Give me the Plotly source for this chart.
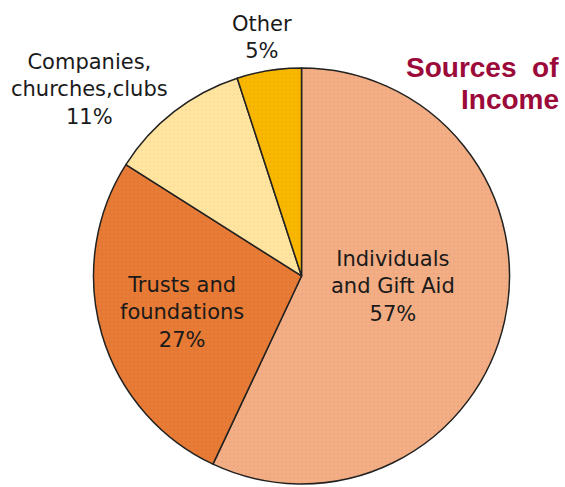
import plotly.graph_objects as go

labels = ["Individuals<br>and Gift Aid", "Trusts and<br>foundations", "Companies,<br>churches,clubs", "Other"]
values = [57, 27, 11, 5]
colors = ["#F3AE85", "#E87B35", "#FFE5A0", "#F9B700"]
dot_colors = ["#D88F63", "#C8652B", "#E3C57A", "#D49A00"]

# label placement (paper coords) per slice
label_pos = [(0.696, 0.411), (0.322, 0.359), (0.158, 0.817), (0.464, 0.922)]

fig = go.Figure()
fig.add_trace(go.Pie(
    labels=labels,
    values=values,
    sort=False,
    direction="clockwise",
    rotation=0,
    textinfo="none",
    hoverinfo="label+percent",
    marker=dict(
        colors=colors,
        line=dict(color="#222222", width=1.5),
        pattern=dict(shape=".", size=4, solidity=0.12, fgcolor=dot_colors,
                     bgcolor=colors, fgopacity=0.5, fillmode="overlay"),
    ),
    domain=dict(x=[0.1655, 0.9018], y=[0.0062, 0.8604]),
    showlegend=False,
))

total = sum(values)
for lab, val, (px, py) in zip(labels, values, label_pos):
    fig.add_annotation(
        x=px, y=py, xref="paper", yref="paper",
        text=f"{lab}<br>{round(val / total * 100)}%",
        showarrow=False,
        font=dict(family="DejaVu Sans", size=21, color="#1a1a1a"),
        align="center",
        xanchor="center", yanchor="middle",
    )

title_lines = ["Sources\u00a0 of", "Income"]
title_pos = [(561 / 565, 1 - 68 / 487), (561 / 565, 1 - 100 / 487)]
for t, (px, py) in zip(title_lines, title_pos):
    fig.add_annotation(
        x=px, y=py, xref="paper", yref="paper",
        text=t,
        showarrow=False,
        font=dict(family="Liberation Sans", size=28, color="#9C0A3A", weight="bold"),
        xanchor="right", yanchor="middle",
    )

fig.update_layout(
    width=565, height=487,
    margin=dict(l=0, r=0, t=0, b=0),
    paper_bgcolor="white",
    plot_bgcolor="white",
)

fig.write_html("out.html", config={"displayModeBar": False},
               post_script="document.body.style.margin='0';")
